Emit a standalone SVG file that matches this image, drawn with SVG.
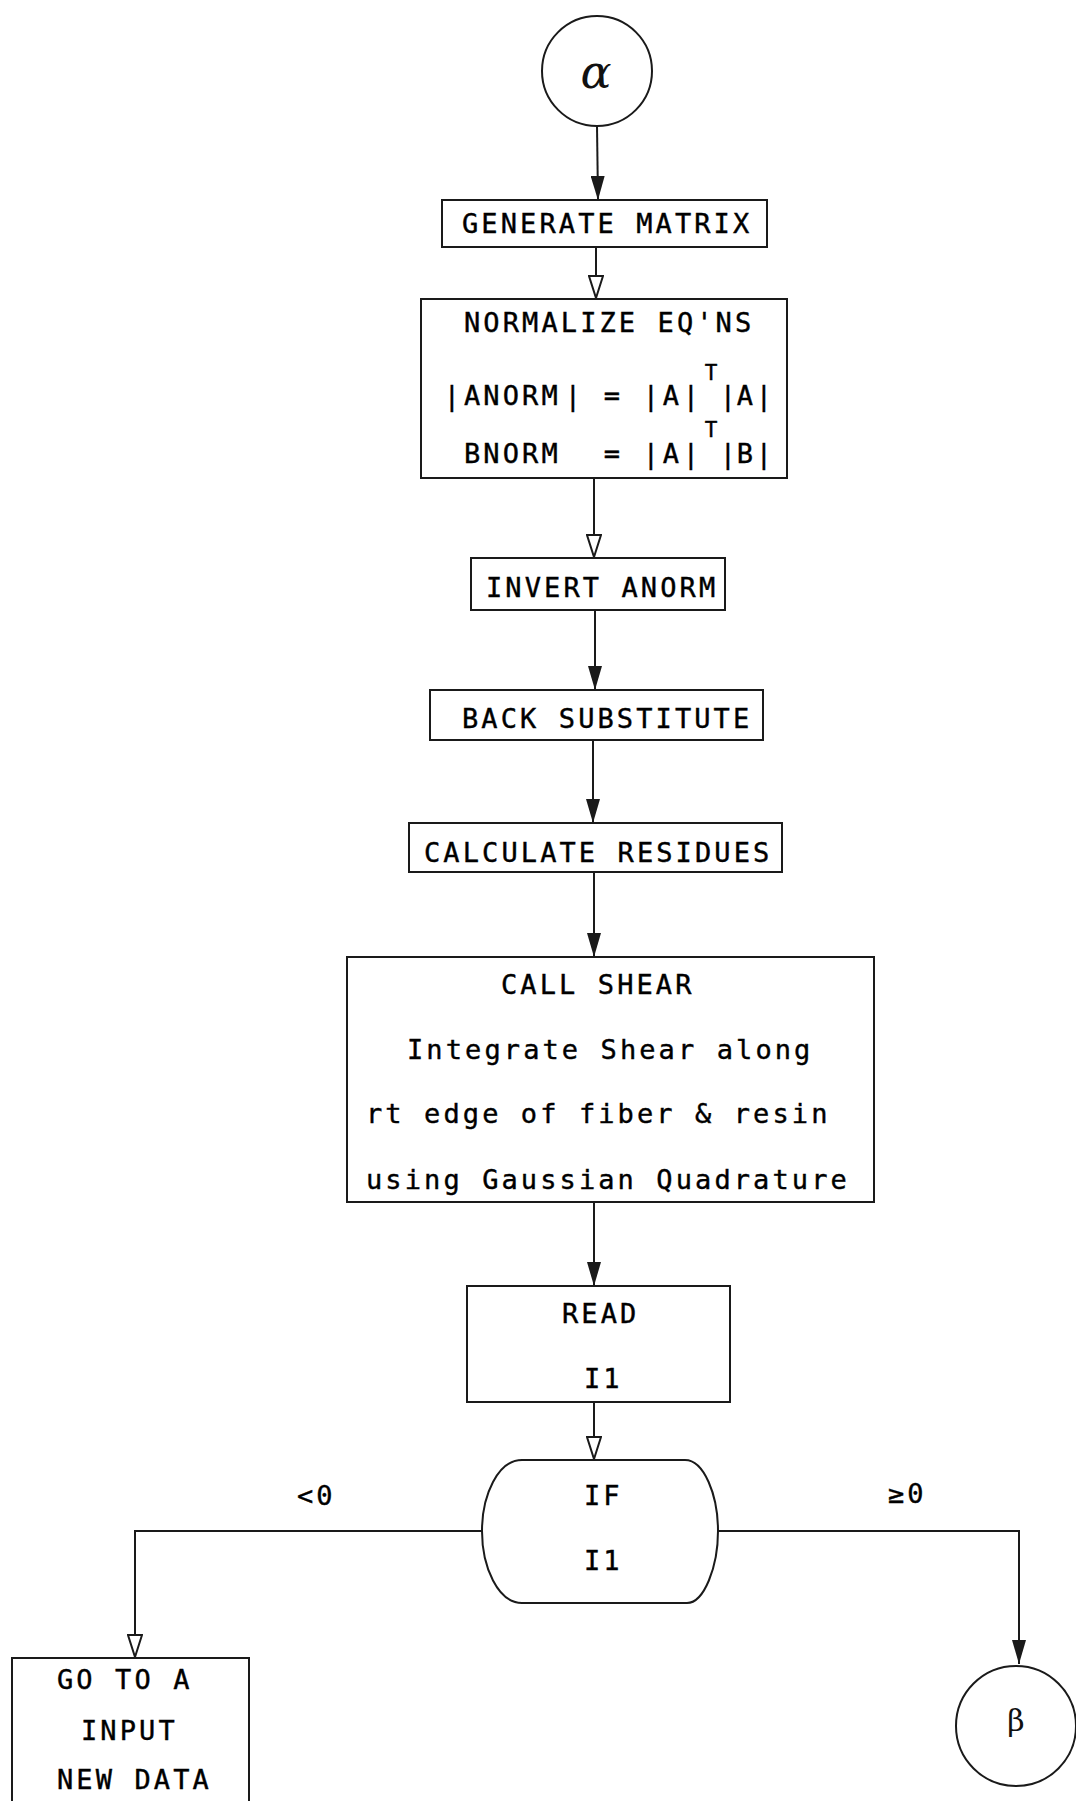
<svg xmlns="http://www.w3.org/2000/svg" width="1076" height="1801" viewBox="0 0 1076 1801">
<defs>
<style>
.box{fill:none;stroke:#1a1a1a;stroke-width:2}
.ln{fill:none;stroke:#1a1a1a;stroke-width:2}
.t{font-family:"DejaVu Sans Mono",monospace;font-size:27px;letter-spacing:3.1px;fill:#000;stroke:#000;stroke-width:0.4}
.g{font-family:"DejaVu Sans Mono",monospace;font-size:27px;fill:#000;stroke:#000;stroke-width:0.4;text-anchor:middle}
.sup{font-family:"DejaVu Sans Mono",monospace;font-size:21px;fill:#000;stroke:#000;stroke-width:0.4;text-anchor:middle}
.greek{font-family:"DejaVu Serif",serif;fill:#111;text-anchor:middle}
</style>
<marker id="af" markerUnits="userSpaceOnUse" markerWidth="26" markerHeight="14" refX="24" refY="7" orient="auto" viewBox="0 0 26 14">
<path d="M0,0 L24,7 L0,14 Z" fill="#1a1a1a"/>
</marker>
<marker id="ao" markerUnits="userSpaceOnUse" markerWidth="25" markerHeight="16" refX="22" refY="7" orient="auto" viewBox="-1 -1 25 16">
<path d="M0,0 L22,7 L0,14 Z" fill="#fff" stroke="#1a1a1a" stroke-width="2"/>
</marker>
</defs>

<g id="connectors">
<line class="ln" x1="597" y1="126" x2="598" y2="200" marker-end="url(#af)"/>
<line class="ln" x1="596" y1="247" x2="596" y2="298" marker-end="url(#ao)"/>
<line class="ln" x1="594" y1="478" x2="594" y2="557" marker-end="url(#ao)"/>
<line class="ln" x1="595" y1="610" x2="595" y2="690" marker-end="url(#af)"/>
<line class="ln" x1="593" y1="740" x2="593" y2="823" marker-end="url(#af)"/>
<line class="ln" x1="594" y1="872" x2="594" y2="957" marker-end="url(#af)"/>
<line class="ln" x1="594" y1="1202" x2="594" y2="1286" marker-end="url(#af)"/>
<line class="ln" x1="594" y1="1402" x2="594" y2="1459" marker-end="url(#ao)"/>
<polyline class="ln" points="482,1531 135,1531 135,1657" marker-end="url(#ao)"/>
<polyline class="ln" points="718,1531 1019,1531 1019,1664" marker-end="url(#af)"/>
<text class="t" x="297" y="1505">&lt;0</text>
<text class="t" x="888" y="1503">≥0</text>
</g>

<g id="alpha">
<circle class="box" cx="597" cy="71" r="55"/>
<text class="greek" x="596" y="88" font-size="46" font-style="italic">α</text>
</g>

<g id="generate">
<rect class="box" x="442" y="200" width="325" height="47"/>
<text class="t" x="462" y="233">GENERATE MATRIX</text>
</g>

<g id="normalize">
<rect class="box" x="421" y="299" width="366" height="179"/>
<text class="t" x="464" y="332">NORMALIZE EQ'NS</text>
<text class="g" x="452" y="405">|</text>
<text class="t" x="464" y="405">ANORM</text>
<text class="g" x="573" y="405">|</text>
<text class="g" x="612" y="405">=</text>
<text class="g" x="651" y="405">|</text>
<text class="g" x="671" y="405">A</text>
<text class="g" x="691" y="405">|</text>
<text class="sup" x="711" y="380">T</text>
<text class="g" x="728" y="405">|</text>
<text class="g" x="745" y="405">A</text>
<text class="g" x="764" y="405">|</text>
<text class="t" x="464" y="463">BNORM</text>
<text class="g" x="612" y="463">=</text>
<text class="g" x="651" y="463">|</text>
<text class="g" x="671" y="463">A</text>
<text class="g" x="691" y="463">|</text>
<text class="sup" x="711" y="437">T</text>
<text class="g" x="728" y="463">|</text>
<text class="g" x="745" y="463">B</text>
<text class="g" x="764" y="463">|</text>
</g>

<g id="invert">
<rect class="box" x="471" y="558" width="254" height="52"/>
<text class="t" x="486" y="597">INVERT ANORM</text>
</g>

<g id="back">
<rect class="box" x="430" y="690" width="333" height="50"/>
<text class="t" x="462" y="728">BACK SUBSTITUTE</text>
</g>

<g id="calculate">
<rect class="box" x="409" y="823" width="373" height="49"/>
<text class="t" x="424" y="862">CALCULATE RESIDUES</text>
</g>

<g id="callshear">
<rect class="box" x="347" y="957" width="527" height="245"/>
<text class="t" x="501" y="994">CALL SHEAR</text>
<text class="t" x="407" y="1059">Integrate Shear along</text>
<text class="t" x="366" y="1123">rt edge of fiber &amp; resin</text>
<text class="t" x="366" y="1189">using Gaussian Quadrature</text>
</g>

<g id="read">
<rect class="box" x="467" y="1286" width="263" height="116"/>
<text class="t" x="562" y="1323">READ</text>
<text class="t" x="584" y="1388">I1</text>
</g>

<g id="if">
<path class="box" d="M522,1460 L685,1460 C704,1460 718,1495 718,1531 C718,1567 704,1603 687,1603 L522,1603 C498,1603 482,1567 482,1531 C482,1495 498,1460 522,1460 Z"/>
<text class="t" x="584" y="1505">IF</text>
<text class="t" x="584" y="1570">I1</text>
</g>

<g id="goto">
<path class="box" d="M12,1815 L12,1658 L249,1658 L249,1815"/>
<text class="t" x="57" y="1689">GO TO A</text>
<text class="t" x="81" y="1740">INPUT</text>
<text class="t" x="57" y="1789">NEW DATA</text>
</g>

<g id="beta">
<circle class="box" cx="1016" cy="1726" r="60"/>
<text class="greek" x="1016" y="1731" font-size="30">β</text>
</g>
</svg>
